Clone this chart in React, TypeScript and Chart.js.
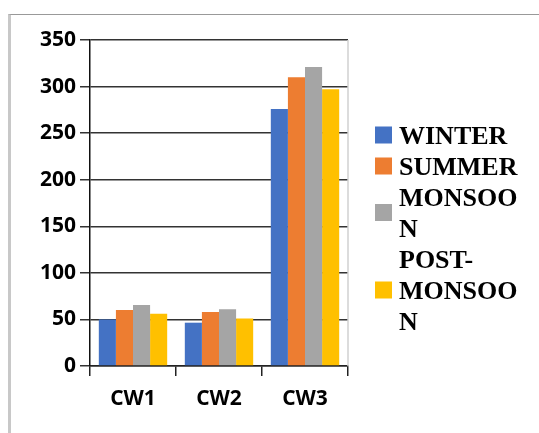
import React, { useEffect, useRef } from "react";
import { Chart, registerables } from "chart.js";

Chart.register(...registerables);

const categories = ["CW1", "CW2", "CW3"];
const seriesNames = ["WINTER", "SUMMER", "MONSOON", "POST-MONSOON"];
const winter = [50, 46.5, 276];
const summer = [60, 58, 310];
const monsoon = [65.5, 61, 321];
const postMonsoon = [56, 51, 297];
const seriesColors = ["#4472C4", "#ED7D31", "#A5A5A5", "#FFC000"];
const yMin = 0;
const yMax = 350;
const yStep = 50;

function wrapText(ctx: CanvasRenderingContext2D, text: string, maxW: number): string[] {
  const tokens: string[] = [];
  let cur = "";
  for (const ch of text) {
    cur += ch;
    if (ch === "-" || ch === " ") {
      tokens.push(cur);
      cur = "";
    }
  }
  if (cur) tokens.push(cur);
  const lines: string[] = [];
  let line = "";
  for (const tok of tokens) {
    if (ctx.measureText(line + tok).width <= maxW) {
      line += tok;
      continue;
    }
    if (line) {
      lines.push(line.trimEnd());
      line = "";
    }
    if (ctx.measureText(tok).width <= maxW) {
      line = tok;
    } else {
      for (const ch of tok) {
        if (ctx.measureText(line + ch).width > maxW && line) {
          lines.push(line);
          line = ch;
        } else {
          line += ch;
        }
      }
    }
  }
  if (line) lines.push(line.trimEnd());
  return lines;
}

const sideLegend = {
  id: "sideLegend",
  afterDraw(chart: any) {
    const ctx: CanvasRenderingContext2D = chart.ctx;
    const area = chart.chartArea;
    ctx.save();
    const fontSize = 26;
    ctx.font = `bold ${fontSize}px "Liberation Serif", "Times New Roman", serif`;
    ctx.textAlign = "left";
    ctx.textBaseline = "alphabetic";
    const boxX = area.right + 27;
    const box = 17;
    const textX = boxX + 24;
    const firstCenter = 135;
    const lh = 31;
    const capHalf = (fontSize * 0.662) / 2;
    let lineIdx = 0;
    chart.data.datasets.forEach((ds: any) => {
      const lines = wrapText(ctx, ds.label, 128);
      const start = firstCenter + lineIdx * lh;
      const end = start + (lines.length - 1) * lh;
      const mid = (start + end) / 2;
      ctx.fillStyle = ds.backgroundColor;
      ctx.fillRect(boxX, mid - box / 2, box, box);
      ctx.fillStyle = "#000";
      lines.forEach((l, i) => ctx.fillText(l, textX, start + i * lh + capHalf));
      lineIdx += lines.length;
    });
    ctx.restore();
  },
};

const plotRightBorder = {
  id: "plotRightBorder",
  beforeDatasetsDraw(chart: any) {
    const ctx: CanvasRenderingContext2D = chart.ctx;
    const a = chart.chartArea;
    ctx.save();
    ctx.strokeStyle = "#d0d0d0";
    ctx.lineWidth = 1.5;
    ctx.beginPath();
    ctx.moveTo(a.right, a.top);
    ctx.lineTo(a.right, a.bottom);
    ctx.stroke();
    ctx.restore();
  },
};

export default function App() {
  const ref = useRef<HTMLCanvasElement | null>(null);
  useEffect(() => {
    if (!ref.current) return;
    const values = [winter, summer, monsoon, postMonsoon];
    const tickFont = { family: '"Open Sans", "Noto Sans", sans-serif', size: 21, weight: "bold" as const };
    const chart = new Chart(ref.current, {
      type: "bar",
      data: {
        labels: categories,
        datasets: seriesNames.map((name, i) => ({
          label: name,
          data: values[i],
          backgroundColor: seriesColors[i],
          borderWidth: 0,
          categoryPercentage: 0.795,
          barPercentage: 1,
        })),
      },
      options: {
        animation: false,
        responsive: false,
        devicePixelRatio: 1,
        layout: { padding: { top: 40, right: 191, bottom: 0, left: 0 } },
        plugins: { legend: { display: false }, tooltip: { enabled: false } },
        scales: {
          x: {
            grid: { display: true, drawOnChartArea: false, drawTicks: true, tickLength: 10, color: "#222", lineWidth: 1.5 },
            border: { display: true, color: "#222", width: 1.5 },
            ticks: { color: "#000", font: tickFont, padding: 10 },
            afterFit(scale: any) {
              scale.height = 67;
            },
          },
          y: {
            min: yMin,
            max: yMax,
            ticks: { stepSize: yStep, color: "#000", font: tickFont, padding: 4 },
            grid: { color: "#333", lineWidth: 1.5, tickLength: 10, drawTicks: true },
            border: { display: true, color: "#111", width: 1.5 },
            afterFit(scale: any) {
              scale.width = 90;
            },
          },
        },
      },
      plugins: [plotRightBorder, sideLegend],
    });
    return () => chart.destroy();
  }, []);
  return (
    <div style={{ position: "fixed", left: 0, top: 0, width: 539, height: 433, overflow: "hidden", background: "#fff" }}>
      <div
        style={{
          position: "absolute",
          left: 8,
          top: 14,
          width: 700,
          height: 700,
          borderLeft: "3px solid #c8c8c8",
          borderTop: "1px solid #999",
        }}
      />
      <canvas ref={ref} width={539} height={433} style={{ position: "absolute", left: 0, top: 0 }} />
    </div>
  );
}
